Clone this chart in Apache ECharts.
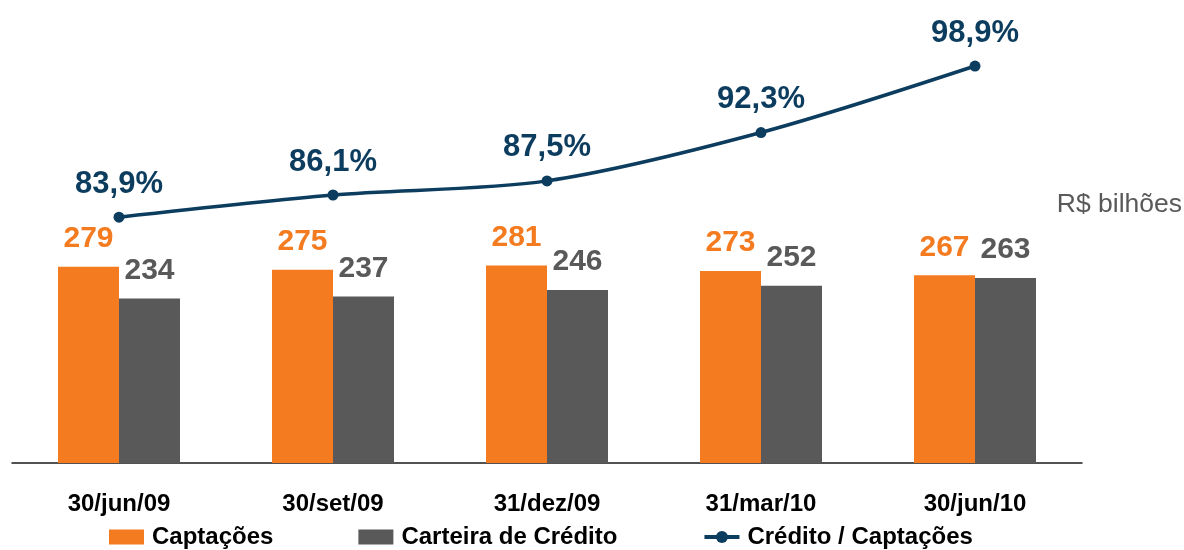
<!DOCTYPE html>
<html><head><meta charset="utf-8">
<script src="https://cdn.jsdelivr.net/npm/echarts@6/dist/echarts.min.js"></script>
<style>html,body{margin:0;padding:0;background:#fff}#c{width:1184px;height:550px}</style>
</head><body><div id="c"></div>
<script>
const categories = ['30/jun/09','30/set/09','31/dez/09','31/mar/10','30/jun/10'];
const captacoes = [279, 275, 281, 273, 267];
const carteira = [234, 237, 246, 252, 263];
const ratio = [83.9, 86.1, 87.5, 92.3, 98.9];

const ORANGE = '#F47B20', GRAY = '#595959', NAVY = '#0C3C5E';
const FONT = '"Liberation Sans", Arial, sans-serif';
const fmtPct = v => v.toFixed(1).replace('.', ',') + '%';

const chart = echarts.init(document.getElementById('c'));
chart.setOption({
  animation: false,
  textStyle: { fontFamily: FONT },
  grid: { left: 12, right: 102, top: 63, bottom: 87 },
  legend: {
    left: 109, top: 525, padding: 0, itemGap: 85, itemWidth: 35, itemHeight: 15,
    textStyle: { fontFamily: FONT, fontSize: 24, fontWeight: 'bold', color: '#000', padding: [0, 0, 0, 3] },
    data: [
      { name: 'Captações', icon: 'rect' },
      { name: 'Carteira de Crédito', icon: 'rect' },
      { name: 'Crédito / Captações', lineStyle: { width: 4 } }
    ]
  },
  graphic: [{
    type: 'text', right: 2, top: 191,
    style: { text: 'R$ bilhões', fontFamily: FONT, fontSize: 26.5, fill: GRAY }
  }],
  xAxis: {
    type: 'category', data: categories,
    axisLine: { lineStyle: { color: '#1a1a1a', width: 1.5 } },
    axisTick: { show: false },
    axisLabel: { color: '#000', fontFamily: FONT, fontSize: 24, fontWeight: 'bold', margin: 29 }
  },
  yAxis: [
    { type: 'value', min: 0, max: 569, show: false, splitLine: { show: false } },
    { type: 'value', min: 59.5, max: 99.2, show: false, splitLine: { show: false } }
  ],
  series: [
    {
      name: 'Captações', type: 'bar', data: captacoes, barWidth: 61, barGap: '0%',
      itemStyle: { color: ORANGE },
      label: { show: true, position: 'top', distance: 13, color: ORANGE,
        fontFamily: FONT, fontSize: 30, fontWeight: 'bold' }
    },
    {
      name: 'Carteira de Crédito', type: 'bar', data: carteira, barWidth: 61, barGap: '0%',
      itemStyle: { color: GRAY },
      label: { show: true, position: 'top', distance: 13, color: GRAY,
        fontFamily: FONT, fontSize: 30, fontWeight: 'bold' }
    },
    {
      name: 'Crédito / Captações', type: 'line', yAxisIndex: 1, data: ratio,
      smooth: 0.3, symbol: 'circle', symbolSize: 11,
      lineStyle: { color: NAVY, width: 3.5 }, itemStyle: { color: NAVY },
      label: { show: true, position: 'top', distance: 12, color: NAVY,
        fontFamily: FONT, fontSize: 31, fontWeight: 'bold', formatter: p => fmtPct(p.value) }
    }
  ]
});
</script></body></html>
